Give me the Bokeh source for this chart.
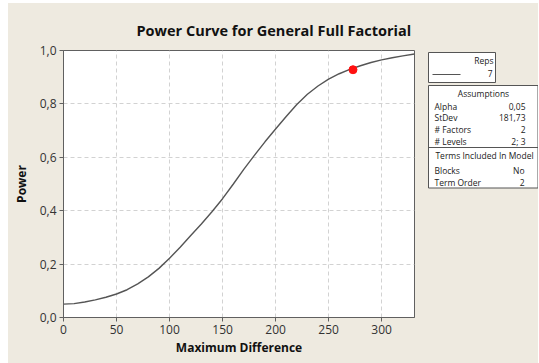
from bokeh.plotting import figure
from bokeh.models import Range1d, Spacer, FixedTicker
from bokeh.layouts import row, column
from bokeh.core.properties import value
from bokeh.embed import file_html
from bokeh.resources import INLINE

# ---- data ----
max_diff = [0, 10, 20, 30, 40, 50, 60, 70, 80, 90, 100, 110, 120, 130, 140, 150, 160,
            170, 180, 190, 200, 210, 220, 230, 240, 250, 260, 270, 280, 290, 300, 310,
            320, 331]
power = [0.050, 0.052, 0.058, 0.066, 0.076, 0.088, 0.104, 0.126, 0.152, 0.184, 0.222,
         0.263, 0.307, 0.350, 0.396, 0.445, 0.499, 0.555, 0.607, 0.658, 0.706, 0.753,
         0.798, 0.836, 0.867, 0.893, 0.913, 0.929, 0.943, 0.955, 0.965, 0.973, 0.980,
         0.987]
point_x = [273]
point_y = [0.928]

x_ticks = [0, 50, 100, 150, 200, 250, 300]
y_ticks = [0.0, 0.2, 0.4, 0.6, 0.8, 1.0]
y_tick_labels = ["0,0", "0,2", "0,4", "0,6", "0,8", "1,0"]

title_text = "Power Curve for General Full Factorial"
x_label = "Maximum Difference"
y_label = "Power"

reps_title = "Reps"
reps_value = "7"
assump_title = "Assumptions"
assump_names = ["Alpha", "StDev", "# Factors", "# Levels"]
assump_values = ["0,05", "181,73", "2", "2; 3"]
terms_title = "Terms Included In Model"
terms_names = ["Blocks", "Term Order"]
terms_values = ["No", "2"]

BG = "#EEEAE0"
CURVE = "#555555"
FONT = "Open Sans"

p = figure(width=412, height=360, output_backend="svg", toolbar_location=None,
           x_range=Range1d(0, 331), y_range=Range1d(0, 1.0),
           min_border_left=55, min_border_right=6, min_border_top=47, min_border_bottom=46,
           styles={"background-color": BG})
p.border_fill_color = BG
p.background_fill_color = "white"
p.outline_line_color = "#606060"
p.outline_line_width = 1

p.title.text = title_text
p.title.align = "left"
p.title.offset = 73
p.title.standoff = 21
p.title.text_font = FONT
p.title.text_font_size = "14.5px"
p.title.text_font_style = "bold"
p.title.text_color = "#111111"

p.xaxis.ticker = FixedTicker(ticks=x_ticks)
p.yaxis.ticker = FixedTicker(ticks=y_ticks)
p.yaxis.major_label_overrides = {t: l for t, l in zip(y_ticks, y_tick_labels)}
for ax in (p.xaxis[0], p.yaxis[0]):
    ax.axis_line_color = "#606060"
    ax.major_tick_line_color = "#606060"
    ax.major_tick_in = 0
    ax.major_tick_out = 4
    ax.minor_tick_line_color = None
    ax.major_label_text_font = FONT
    ax.major_label_text_font_size = "12px"
    ax.major_label_text_color = "#333333"
    ax.axis_label_text_font = FONT
    ax.axis_label_text_font_size = "12px"
    ax.axis_label_text_font_style = "bold"
    ax.axis_label_text_color = "#111111"
p.xaxis.axis_label = x_label
p.yaxis.axis_label = y_label
p.xaxis.major_label_standoff = 3
p.yaxis.major_label_standoff = 3
p.xaxis.axis_label_standoff = 2
p.yaxis.axis_label_standoff = 7

p.grid.grid_line_color = "#d2d2d2"
p.grid.grid_line_dash = "4 3"
p.grid.grid_line_width = 1

p.line(max_diff, power, line_color=CURVE, line_width=1.4)
p.scatter(point_x, point_y, size=8, color="#ff1010")

# ---- side panel with the legend/assumption boxes (page pixel coordinates) ----
# its frame is aligned with the main frame (page y 50..317)
s = figure(width=118, height=360, output_backend="svg", toolbar_location=None,
           x_range=Range1d(420, 538), y_range=Range1d(317, 50),
           min_border_left=0, min_border_right=0, min_border_top=47, min_border_bottom=46,
           styles={"background-color": BG})
s.axis.visible = False
s.grid.visible = False
s.outline_line_color = None
s.background_fill_color = BG
s.border_fill_color = BG

s.quad(left=[428, 428], right=[495, 537.5], top=[52, 85], bottom=[82, 187.5],
       fill_color="white", line_color="#555555", line_width=1)
s.segment(x0=[428], y0=[147], x1=[537.5], y1=[147], line_color="#555555", line_width=1)
s.segment(x0=[432], y0=[74], x1=[460], y1=[74], line_color=CURVE, line_width=1.2)

def txt(x, y, t, align="left"):
    s.text(x=[x], y=[y], text=[t], text_align=align, text_baseline="middle",
           text_font=value(FONT), text_font_size="8.5px", text_color="#222222")

txt(493, 60, reps_title, "right")
txt(492, 73, reps_value, "right")
txt(483, 93, assump_title, "center")
for i, (n, v) in enumerate(zip(assump_names, assump_values)):
    yy = 105.5 + i * 11.8
    txt(434, yy, n)
    txt(525, yy, v, "right")
txt(484, 155, terms_title, "center")
for i, (n, v) in enumerate(zip(terms_names, terms_values)):
    yy = 170 + i * 12
    txt(434, yy, n)
    txt(524, yy, v, "right")

inner = row(p, s, spacing=0, styles={"background-color": BG})
layout = column(Spacer(height=3), row(Spacer(width=8), inner))
open("out.html", "w").write(file_html(layout, INLINE))
